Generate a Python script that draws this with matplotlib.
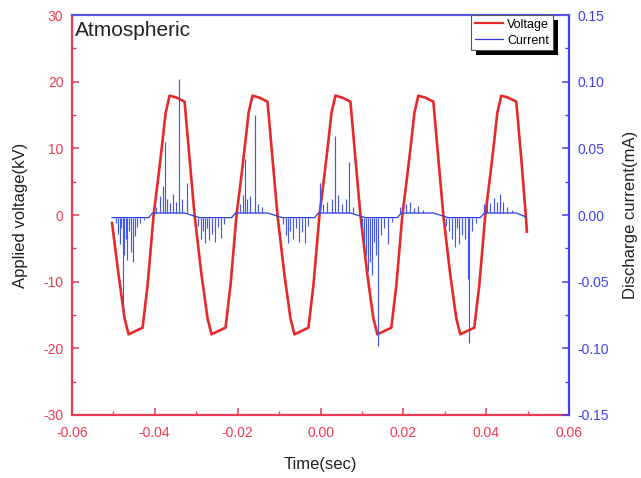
import matplotlib
matplotlib.use("Agg")
import matplotlib.pyplot as plt
import numpy as np
from matplotlib.lines import Line2D
from matplotlib.patches import Rectangle
from matplotlib.transforms import IdentityTransform
from matplotlib.ticker import MultipleLocator, FormatStrFormatter

plt.rcParams['font.family'] = ['Liberation Sans', 'DejaVu Sans']
plt.rcParams['axes.unicode_minus'] = False

# Applied voltage waveform (s, kV)
volt_t = [
    -0.05028, -0.04869, -0.04725, -0.04628, -0.04459, -0.04291, -0.04170, -0.04025,
    -0.03905, -0.03808, -0.03736, -0.03640, -0.03471, -0.03278, -0.03157,
    -0.03038, -0.02869, -0.02725, -0.02628, -0.02459, -0.02291, -0.02170, -0.02025,
    -0.01905, -0.01808, -0.01736, -0.01640, -0.01471, -0.01278, -0.01157,
    -0.01038, -0.00869, -0.00725, -0.00628, -0.00459, -0.00291, -0.00170, -0.00025,
    0.00095, 0.00192, 0.00264, 0.00360, 0.00529, 0.00722, 0.00843,
    0.00962, 0.01131, 0.01275, 0.01372, 0.01541, 0.01709, 0.01830, 0.01975,
    0.02095, 0.02192, 0.02264, 0.02360, 0.02529, 0.02722, 0.02843,
    0.02962, 0.03131, 0.03275, 0.03372, 0.03541, 0.03709, 0.03830, 0.03975,
    0.04095, 0.04192, 0.04264, 0.04360, 0.04529, 0.04722, 0.04843,
    0.04950, 0.04978,
]
volt_kv = [
    -1.2, -9.0, -15.5, -17.9, -17.4, -16.9, -10.5, 0.0,
    6.0, 11.2, 15.3, 17.9, 17.6, 17.0, 8.4,
    0.0, -9.0, -15.5, -17.9, -17.4, -16.9, -10.5, 0.0,
    6.0, 11.2, 15.3, 17.9, 17.6, 17.0, 8.4,
    0.0, -9.0, -15.5, -17.9, -17.4, -16.9, -10.5, 0.0,
    6.0, 11.2, 15.3, 17.9, 17.6, 17.0, 8.4,
    0.0, -9.0, -15.5, -17.9, -17.4, -16.9, -10.5, 0.0,
    6.0, 11.2, 15.3, 17.9, 17.6, 17.0, 8.4,
    0.0, -9.0, -15.5, -17.9, -17.4, -16.9, -10.5, 0.0,
    6.0, 11.2, 15.3, 17.9, 17.6, 17.0, 8.4,
    0.0, -2.5,
]

# Discharge current baseline (s, mA)
base_t = [
    -0.05028,
    -0.04146, -0.04049, -0.03278, -0.02917,
    -0.02146, -0.02049, -0.01278, -0.00917,
    -0.00146, -0.00049, 0.00722, 0.01083,
    0.01854, 0.01951, 0.02722, 0.03083,
    0.03854, 0.03951, 0.04722, 0.04960,
]
base_ma = [
    -0.002,
    -0.002, 0.0015, 0.0015, -0.002,
    -0.002, 0.0015, 0.0015, -0.002,
    -0.002, 0.0015, 0.0015, -0.002,
    -0.002, 0.0015, 0.0015, -0.002,
    -0.002, 0.0015, 0.0015, -0.0015,
]
base_neg = -0.002
base_pos = 0.0015

# Discharge current pulses (s, mA)
spike_t = [
    -0.04931, -0.04883, -0.04835, -0.04811, -0.04762, -0.04738, -0.04690, -0.04666,
    -0.04618, -0.04570, -0.04521, -0.04473, -0.04425, -0.04353, -0.04256,
    -0.03967, -0.03870, -0.03798, -0.03750, -0.03702, -0.03629, -0.03557, -0.03484,
    -0.03412, -0.03340, -0.03219,
    -0.02954, -0.02882, -0.02833, -0.02785, -0.02737, -0.02689, -0.02616, -0.02544,
    -0.02472, -0.02399, -0.02327,
    -0.01941, -0.01869, -0.01821, -0.01772, -0.01700, -0.01579, -0.01507, -0.01411,
    -0.00904, -0.00832, -0.00784, -0.00735, -0.00663, -0.00591, -0.00518, -0.00446,
    -0.00374, -0.00301,
    -0.00012, 0.00060, 0.00157, 0.00277, 0.00350, 0.00422, 0.00518, 0.00615,
    0.00687, 0.00784,
    0.01001, 0.01049, 0.01097, 0.01145, 0.01194, 0.01242, 0.01290, 0.01338,
    0.01387, 0.01459, 0.01531, 0.01628, 0.01724,
    0.01917, 0.01989, 0.02062, 0.02158, 0.02255, 0.02351, 0.02472,
    0.03026, 0.03099, 0.03171, 0.03243, 0.03292, 0.03340, 0.03412, 0.03484,
    0.03557, 0.03581, 0.03653, 0.03750,
    0.03943, 0.04015, 0.04087, 0.04184, 0.04256, 0.04328, 0.04401, 0.04497, 0.04618,
]
spike_ma = [
    -0.006, -0.014, -0.022, -0.010, -0.075, -0.030, -0.018, -0.034,
    -0.012, -0.028, -0.035, -0.016, -0.009, -0.006, -0.004,
    0.006, 0.014, 0.022, 0.055, 0.012, 0.009, 0.016, 0.010,
    0.102, 0.012, 0.024,
    -0.008, -0.018, -0.012, -0.021, -0.010, -0.019, -0.014, -0.020,
    -0.009, -0.017, -0.007,
    0.008, 0.015, 0.042, 0.012, 0.014, 0.075, 0.008, 0.006,
    -0.007, -0.015, -0.021, -0.012, -0.018, -0.010, -0.020, -0.013,
    -0.021, -0.008,
    0.024, 0.008, 0.010, 0.012, 0.059, 0.015, 0.008, 0.012,
    0.040, 0.006,
    -0.010, -0.022, -0.030, -0.042, -0.035, -0.045, -0.020, -0.030,
    -0.098, -0.015, -0.010, -0.022, -0.005,
    0.006, 0.011, 0.008, 0.010, 0.005, 0.007, 0.004,
    -0.008, -0.012, -0.018, -0.024, -0.010, -0.022, -0.015, -0.018,
    -0.048, -0.096, -0.012, -0.006,
    0.008, 0.012, 0.009, 0.013, 0.010, 0.016, 0.010, 0.006, 0.004,
]

x_ticks = [-0.06, -0.04, -0.02, 0.00, 0.02, 0.04, 0.06]
v_ticks = [-30, -20, -10, 0, 10, 20, 30]
i_ticks = [-0.15, -0.10, -0.05, 0.00, 0.05, 0.10, 0.15]

RED_LINE = '#e52a2a'
RED_AX = '#ee3a52'
BLUE_AX = '#4040f0'
BLUE_LINE = '#2a3ddc'
BLUE_SPIKE = '#4558ee'

fig = plt.figure(figsize=(6.41, 4.78), dpi=100)
ax = fig.add_axes([0.1119, 0.1318, 0.7762, 0.8368])
ax2 = ax.twinx()

ax.plot(volt_t, volt_kv, color=RED_LINE, lw=1.9, zorder=2)

spike_arr = np.asarray(spike_ma)
spike_foot = np.where(spike_arr < 0, base_neg, base_pos)
ax2.plot(base_t, base_ma, color=BLUE_LINE, lw=0.9)
ax2.vlines(spike_t, spike_foot, spike_arr, color=BLUE_SPIKE, lw=0.85)

ax.set_xlim(-0.06, 0.06)
ax.set_ylim(-30, 30)
ax2.set_ylim(-0.15, 0.15)

ax.set_xticks(x_ticks)
ax.set_yticks(v_ticks)
ax2.set_yticks(i_ticks)
ax.xaxis.set_minor_locator(MultipleLocator(0.01))
ax.yaxis.set_minor_locator(MultipleLocator(5))
ax2.yaxis.set_minor_locator(MultipleLocator(0.025))
ax.xaxis.set_major_formatter(FormatStrFormatter('%.2f'))
ax.yaxis.set_major_formatter(FormatStrFormatter('%d'))
ax2.yaxis.set_major_formatter(FormatStrFormatter('%.2f'))

for a in (ax, ax2):
    for s in a.spines.values():
        s.set_linewidth(1.6)
ax.spines['top'].set_visible(False)
ax.spines['right'].set_visible(False)
ax2.spines['left'].set_visible(False)
ax2.spines['bottom'].set_visible(False)
ax.spines['left'].set_color(RED_AX)
ax.spines['bottom'].set_color(RED_AX)
ax2.spines['top'].set_color('#5555e6')
ax2.spines['right'].set_color(BLUE_AX)

ax.tick_params(which='both', direction='in', top=False, right=False,
               colors=RED_AX, labelsize=10)
ax.tick_params(axis='y', which='both', pad=6)
ax.tick_params(axis='x', which='both', pad=8)
ax.tick_params(which='major', length=5, width=1.1)
ax.tick_params(which='minor', length=3, width=1.0)
ax2.tick_params(axis='y', which='both', direction='in', colors=BLUE_AX,
                labelsize=10, pad=6)
ax2.tick_params(axis='y', which='major', length=5, width=1.1)
ax2.tick_params(axis='y', which='minor', length=3, width=1.0)

ax.set_xlabel('Time(sec)', fontsize=12, color='#222222', labelpad=12)
ax.set_ylabel('Applied voltage(kV)', fontsize=12, color='#222222', labelpad=11)
ax2.set_ylabel('Discharge current(mA)', fontsize=12, color='#222222', labelpad=10)

ax.text(0.007, 0.9625, 'Atmospheric', transform=ax.transAxes, fontsize=15,
        ha='left', va='center', color='#222222')

handles = [Line2D([], [], color=RED_LINE, lw=1.6),
           Line2D([], [], color=BLUE_LINE, lw=0.9)]
leg = ax2.legend(handles, ['Voltage', 'Current'], loc='upper right',
                 bbox_to_anchor=(0.967, 1.0), borderaxespad=0, fontsize=9,
                 handlelength=2.3, labelspacing=0.3, borderpad=0.3,
                 handletextpad=0.3, fancybox=False, framealpha=1,
                 edgecolor='#555555')
leg.get_frame().set_linewidth(0.8)
leg.set_zorder(6)

fig.canvas.draw()
bb = leg.get_frame().get_window_extent()
shadow = Rectangle((bb.x0 + 5, bb.y0 - 5), bb.width, bb.height,
                   transform=IdentityTransform(), facecolor='black',
                   edgecolor='none', zorder=5.5)
ax2.add_patch(shadow)

fig.savefig('out.png', dpi=100)
